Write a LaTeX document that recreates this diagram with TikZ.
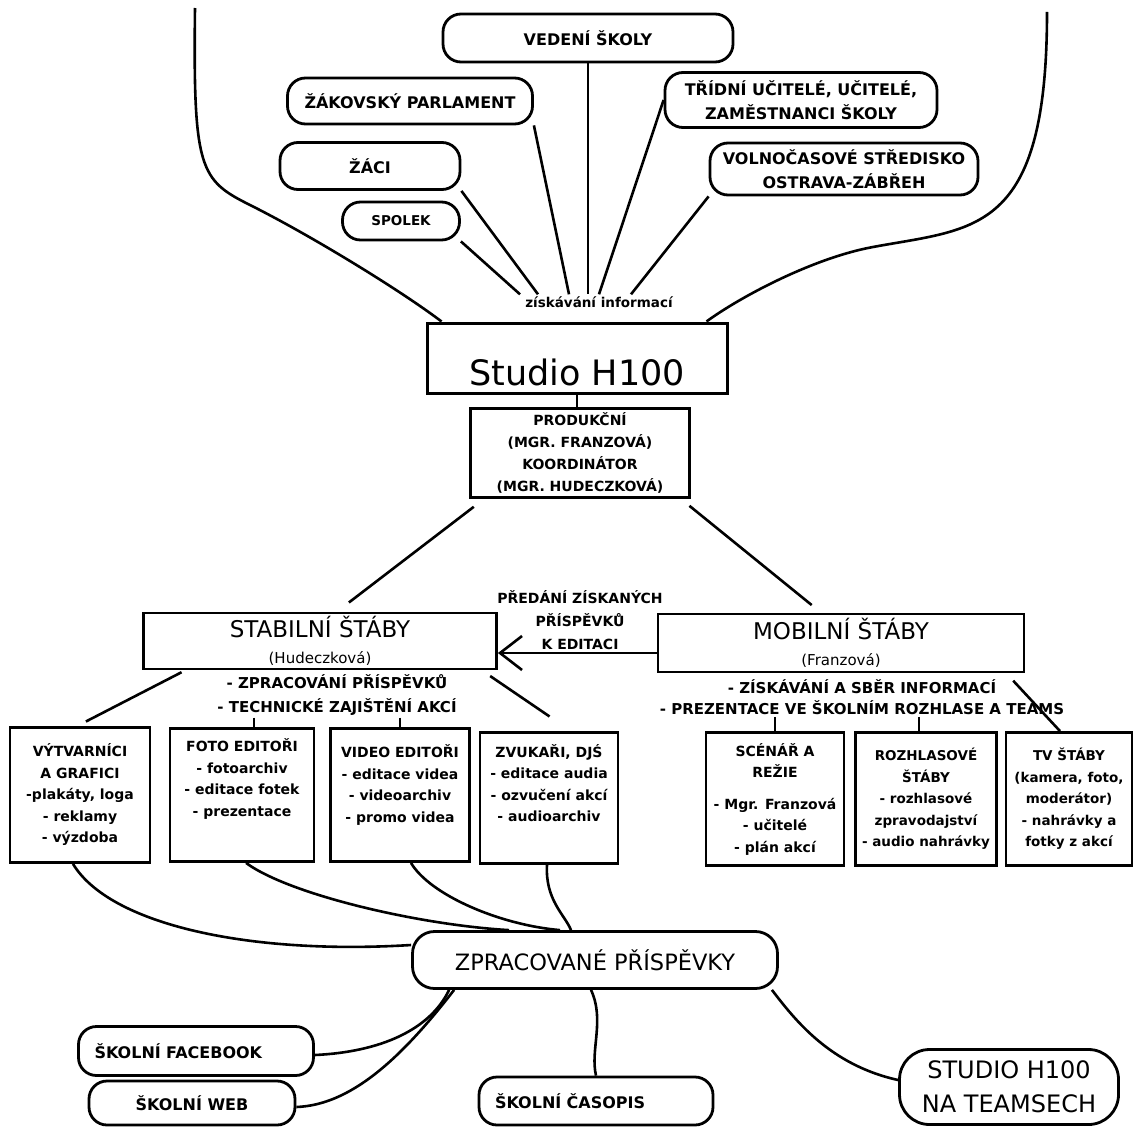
\documentclass[tikz,border=0pt]{standalone}
\usepackage{fontspec}
\setmainfont{DejaVu Sans}
\usetikzlibrary{arrows.meta}

\begin{document}
\begin{tikzpicture}[x=1pt,y=-1pt,
  every node/.style={align=center,inner sep=2pt},
  conn/.style={line width=2.6pt},
  sbox/.style={draw,line width=2.8pt},
  rbox/.style={sbox,rounded corners=18pt},
  hdr/.style={font=\bfseries\fontsize{16}{24}\selectfont},
  subbox/.style={sbox,minimum width=139pt,minimum height=133pt,font=\bfseries\fontsize{14}{21.5}\selectfont}]

  \useasboundingbox (0,0) rectangle (1134,1126);

  \node[rbox,hdr,minimum width=290pt,minimum height=48pt] (vedeni) at (588,38) {VEDENÍ ŠKOLY};
  \node[rbox,hdr,minimum width=245pt,minimum height=46pt] (parl) at (410,101) {ŽÁKOVSKÝ PARLAMENT};
  \node[rbox,hdr,minimum width=180pt,minimum height=47pt] (zaci) at (370,166) {ŽÁCI};
  \node[rbox,font=\bfseries\fontsize{13.5}{16}\selectfont,minimum width=117pt,minimum height=38pt] (spolek) at (401,221) {SPOLEK};
  \node[rbox,hdr,minimum width=272pt,minimum height=55pt] (ucit) at (801,100) {TŘÍDNÍ UČITELÉ, UČITELÉ,\\ZAMĚSTNANCI ŠKOLY};
  \node[rbox,hdr,minimum width=268pt,minimum height=52pt] (volno) at (844,169) {VOLNOČASOVÉ STŘEDISKO\\OSTRAVA-ZÁBŘEH};
  \node[font=\bfseries\fontsize{13.5}{16}\selectfont] (info) at (599,302) {získávání informací};

  \draw[conn] (spolek.south east) -- ([xshift=-79pt]info.north);
  \draw[conn] (zaci.south east) -- ([xshift=-61pt]info.north);
  \draw[conn] (parl.south east) -- ([xshift=-30pt]info.north);
  \draw[conn] (vedeni.south) -- ([xshift=-11pt]info.north);
  \draw[conn] (ucit.west) -- (info.north);
  \draw[conn] (volno.south west) -- ([xshift=32pt]info.north);

  \coordinate (lt) at (195,8);
  \coordinate (rt) at (1047,12);
  \node[sbox,line width=3pt,minimum width=300pt,minimum height=70pt,text height=54pt,text depth=0pt,font=\fontsize{35}{38}\selectfont] (studio) at (577,358) {Studio H100};
  \draw[conn] (lt) .. controls (193,170) and (200,180) .. (250,205) .. controls (310,235) and (400,290) .. ([xshift=16pt]studio.north west);
  \draw[conn] (rt) .. controls (1047,235) and (975,228) .. (873,247) .. controls (813,258) and (740,297) .. ([xshift=-22pt]studio.north east);

  \node[sbox,minimum width=219pt,minimum height=89pt,font=\bfseries\fontsize{14}{22}\selectfont] (prod) at (580,453) {PRODUKČNÍ\\(MGR. FRANZOVÁ)\\KOORDINÁTOR\\(MGR. HUDECZKOVÁ)};
  \draw[conn] (studio.south) -- (studio.south |- prod.north);

  \node[sbox,minimum width=353pt,minimum height=56pt,font=\fontsize{23}{26}\selectfont] (stab) at (320,641) {STABILNÍ ŠTÁBY\\{\fontsize{15}{16}\selectfont (Hudeczková)}};
  \node[sbox,minimum width=366pt,minimum height=58pt,font=\fontsize{23}{26}\selectfont] (mob) at (841,643) {MOBILNÍ ŠTÁBY\\{\fontsize{15}{16}\selectfont (Franzová)}};
  \draw[conn,shorten <=13pt,shorten >=15pt] ([xshift=15pt]prod.south west) -- ([xshift=17pt]stab.north);
  \draw[conn,shorten <=11pt,shorten >=12pt] ([xshift=-10pt]prod.south east) -- ([xshift=-20pt]mob.north);

  \node[font=\bfseries\fontsize{14}{23}\selectfont] (pass) at (580,620) {PŘEDÁNÍ ZÍSKANÝCH\\PŘÍSPĚVKŮ\\K EDITACI};
  \draw[conn,-{Straight Barb[length=22pt,width=34pt]}] ([yshift=-10pt]mob.west) -- ([yshift=-12pt]stab.east);

  \node[font=\bfseries\fontsize{15}{24}\selectfont] (stabnote) at (337,695) {- ZPRACOVÁNÍ PŘÍSPĚVKŮ\\- TECHNICKÉ ZAJIŠTĚNÍ AKCÍ};
  \node[font=\bfseries\fontsize{15}{21}\selectfont] (mobnote) at (862,697) {- ZÍSKÁVÁNÍ A SBĚR INFORMACÍ\\- PREZENTACE VE ŠKOLNÍM ROZHLASE A TEAMS};

  \node[subbox,minimum width=140pt,minimum height=135pt] (vytv) at (80,795) {VÝTVARNÍCI\\A GRAFICI\\-plakáty, loga\\- reklamy\\- výzdoba};
  \node[subbox,node distance=162pt,right of=vytv,minimum width=144pt,text depth=35pt] (foto) {FOTO EDITOŘI\\- fotoarchiv\\- editace fotek\\- prezentace};
  \node[subbox,node distance=158pt,right of=foto,text depth=23pt] (video) {VIDEO EDITOŘI\\- editace videa\\- videoarchiv\\- promo videa};
  \node[subbox,node distance=149pt,right of=video,minimum width=138pt,minimum height=131pt,yshift=-3pt,text depth=30pt] (zvuk) {ZVUKAŘI, DJŚ\\- editace audia\\- ozvučení akcí\\- audioarchiv};

  \node[subbox,minimum width=138pt] (scen) at (775,799) {SCÉNÁŘ A\\REŽIE\\[10pt]- Mgr. Franzová\\- učitelé\\- plán akcí};
  \node[subbox,node distance=151pt,right of=scen,minimum width=141pt,font=\bfseries\fontsize{13.5}{21.5}\selectfont] (rozh) {ROZHLASOVÉ\\ŠTÁBY\\- rozhlasové\\zpravodajství\\- audio nahrávky};
  \node[subbox,node distance=143pt,right of=rozh,minimum width=126pt,font=\bfseries\fontsize{13.5}{21.5}\selectfont] (tv) {TV ŠTÁBY\\(kamera, foto,\\moderátor)\\- nahrávky a\\fotky z akcí};

  \draw[conn,shorten <=4pt,shorten >=10pt] ([xshift=43pt]stab.south west) -- ([xshift=-3pt]vytv.north);
  \draw[conn] ([xshift=12pt]foto.north |- stabnote.south) -- ([xshift=12pt]foto.north);
  \draw[conn] (video.north |- stabnote.south) -- (video.north);
  \draw[conn,shorten <=10pt,shorten >=26pt] ([xshift=-16pt]stab.south east) -- ([xshift=22pt]zvuk.north);
  \draw[conn] (scen.north |- mobnote.south) -- (scen.north);
  \draw[conn] ([xshift=-7pt]rozh.north |- mobnote.south) -- ([xshift=-7pt]rozh.north);
  \draw[conn,shorten <=10pt] ([xshift=-19pt]mob.south east) -- ([xshift=-9pt]tv.north);

  \node[rbox,rounded corners=22pt,minimum width=365pt,minimum height=57pt,font=\fontsize{22.5}{24}\selectfont] (zprac) at (595,960) {ZPRACOVANÉ PŘÍSPĚVKY};
  \draw[conn] ([xshift=-7pt]vytv.south) .. controls (110,925) and (250,955) .. ([yshift=15pt]zprac.west);
  \draw[conn] ([xshift=4pt]foto.south) .. controls (290,895) and (420,925) .. ([xshift=-86pt]zprac.north);
  \draw[conn] ([xshift=11pt]video.south) .. controls (430,895) and (500,925) .. ([xshift=-35pt]zprac.north);
  \draw[conn] ([xshift=-2pt]zvuk.south) .. controls (545,900) and (565,915) .. ([xshift=-24pt]zprac.north);

  \node[rbox,hdr,minimum height=49pt,text width=203pt,inner xsep=16pt,align=left] (fb) at (196,1051) {ŠKOLNÍ FACEBOOK};
  \node[rbox,hdr,minimum width=206pt,minimum height=44pt] (web) at (192,1103) {ŠKOLNÍ WEB};
  \node[rbox,hdr,minimum height=48pt,text width=202pt,inner xsep=16pt,align=left] (cas) at (596,1101) {ŠKOLNÍ ČASOPIS};
  \node[rbox,rounded corners=30pt,minimum width=219pt,minimum height=75pt,font=\fontsize{24}{34}\selectfont] (teams) at (1009,1087) {STUDIO H100\\NA TEAMSECH};

  \draw[conn] ([xshift=38pt]zprac.south west) .. controls (430,1030) and (380,1052) .. ([yshift=-4pt]fb.east);
  \draw[conn] ([xshift=43pt]zprac.south west) .. controls (400,1060) and (350,1105) .. ([yshift=-4pt]web.east);
  \draw[conn] ([xshift=-4pt]zprac.south) .. controls (605,1020) and (590,1050) .. (cas.north);
  \draw[conn] ([xshift=-7pt]zprac.south east) .. controls (795,1020) and (830,1065) .. ([yshift=7pt]teams.west);
\end{tikzpicture}
\end{document}
